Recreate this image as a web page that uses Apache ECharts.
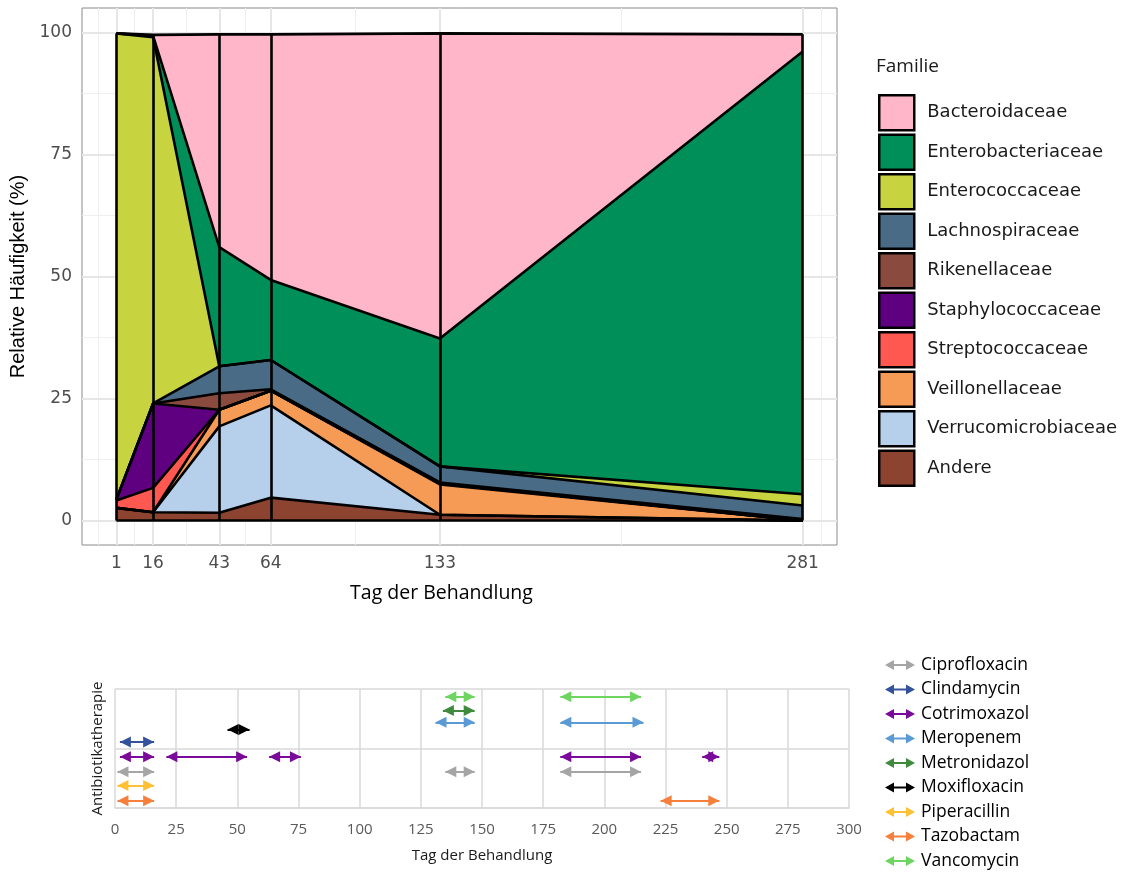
<!DOCTYPE html>
<html><head><meta charset="utf-8">
<script src="https://cdn.jsdelivr.net/npm/echarts@6/dist/echarts.min.js"></script>
<style>html,body{margin:0;padding:0;background:#fff}#c{width:1126px;height:872px}</style>
</head><body><div id="c"></div>
<script>
// ---------- Top chart data (relative abundance, %) ----------
const days = [1, 16, 43, 64, 133, 281];
const families = ['Bacteroidaceae','Enterobacteriaceae','Enterococcaceae','Lachnospiraceae','Rikenellaceae','Staphylococcaceae','Streptococcaceae','Veillonellaceae','Verrucomicrobiaceae','Andere'];
const bacteroidaceae      = [0,    0.2,  43.6, 50.3, 62.5, 3.5];
const enterobacteriaceae  = [0,    0.3,  24.4, 16.4, 26.2, 90.7];
const enterococcaceae     = [95.5, 75.0, 0,    0,    0,    2.3];
const lachnospiraceae     = [0,    0,    5.5,  6.0,  3.3,  2.8];
const rikenellaceae       = [0,    0,    3.4,  0.3,  0.2,  0.3];
const staphylococcaceae   = [0.2,  17.3, 0,    0,    0,    0];
const streptococcaceae    = [1.5,  5.0,  0,    0,    0.2,  0];
const veillonellaceae     = [0,    0,    3.4,  3.0,  6.2,  0];
const verrucomicrobiaceae = [0,    0,    17.7, 18.9, 0,    0];
const andere              = [2.6,  1.7,  1.6,  4.7,  1.2,  0];
const yTicks = [0, 25, 50, 75, 100];

// ---------- Bottom chart data (therapy intervals, days) ----------
const drugs = ['Ciprofloxacin','Clindamycin','Cotrimoxazol','Meropenem','Metronidazol','Moxifloxacin','Piperacillin','Tazobactam','Vancomycin'];
const ciprofloxacin = [[1,16],[135,147],[182,215]];
const clindamycin   = [[2,16]];
const cotrimoxazol  = [[2,16],[21,54],[63,76],[182,215],[240,247]];
const meropenem     = [[131,147],[182,216]];
const metronidazol  = [[134,147]];
const moxifloxacin  = [[46,55]];
const piperacillin  = [[1,16]];
const tazobactam    = [[1,16],[223,247]];
const vancomycin    = [[135,147],[182,215]];
const drugRows = [0.61, 1.11, 0.86, 1.44, 1.64, 1.32, 0.38, 0.12, 1.87];
const xTicks2 = [0, 25, 50, 75, 100, 125, 150, 175, 200, 225, 250, 275, 300];

const famValues = {Bacteroidaceae:bacteroidaceae, Enterobacteriaceae:enterobacteriaceae, Enterococcaceae:enterococcaceae, Lachnospiraceae:lachnospiraceae, Rikenellaceae:rikenellaceae, Staphylococcaceae:staphylococcaceae, Streptococcaceae:streptococcaceae, Veillonellaceae:veillonellaceae, Verrucomicrobiaceae:verrucomicrobiaceae, Andere:andere};
const famColors = {Bacteroidaceae:'#FFB6C8', Enterobacteriaceae:'#008F59', Enterococcaceae:'#C7D43F', Lachnospiraceae:'#4A6B86', Rikenellaceae:'#8B4A3E', Staphylococcaceae:'#5E0080', Streptococcaceae:'#FF5850', Veillonellaceae:'#F59B55', Verrucomicrobiaceae:'#B6CFEA', Andere:'#8C4430'};
const drugSegs = {Ciprofloxacin:ciprofloxacin, Clindamycin:clindamycin, Cotrimoxazol:cotrimoxazol, Meropenem:meropenem, Metronidazol:metronidazol, Moxifloxacin:moxifloxacin, Piperacillin:piperacillin, Tazobactam:tazobactam, Vancomycin:vancomycin};
const drugColors = {Ciprofloxacin:'#A5A5A5', Clindamycin:'#34539C', Cotrimoxazol:'#7A0A99', Meropenem:'#5B9BD5', Metronidazol:'#3F8A3C', Moxifloxacin:'#000000', Piperacillin:'#FFC133', Tazobactam:'#F77F3C', Vancomycin:'#6ED660'};

// ggplot-like minor grid positions (midpoints between breaks, extended)
function minorBreaks(b, lo, hi) {
  const bd = b[1] - b[0];
  const ext = [b[0] - bd, ...b, b[b.length - 1] + bd];
  const out = [];
  for (let i = 0; i < ext.length - 1; i++) {
    const m = (ext[i] + ext[i + 1]) / 2;
    if (m > lo && m < hi) out.push(m);
  }
  return out;
}
const xMin = -13, xMax = 295, yMin = -5, yMax = 105;
const xMinor = minorBreaks(days, xMin, xMax);
const yMinor = minorBreaks(yTicks, yMin, yMax);

const totals = days.map((d, i) => families.reduce((s, f) => s + famValues[f][i], 0));
const stackOrder = families.slice().reverse();

const series = [];
// grid lines (below everything)
series.push({
  type: 'line', xAxisIndex: 0, yAxisIndex: 0, data: [], silent: true, z: 1,
  markLine: {
    silent: true, symbol: 'none', z: 1, animation: false, label: {show: false},
    data: [
      ...xMinor.map(v => ({xAxis: v, lineStyle: {color: '#efefef', width: 1, type: 'solid'}})),
      ...yMinor.map(v => ({yAxis: v, lineStyle: {color: '#efefef', width: 1, type: 'solid'}})),
      ...days.map(v => ({xAxis: v, lineStyle: {color: '#e6e6e6', width: 2, type: 'solid'}})),
      ...yTicks.map(v => ({yAxis: v, lineStyle: {color: '#e6e6e6', width: 2, type: 'solid'}}))
    ]
  }
});
stackOrder.forEach(f => {
  series.push({
    name: f, type: 'line', xAxisIndex: 0, yAxisIndex: 0, stack: 'total', stackStrategy: 'all',
    symbol: 'none', z: 2, silent: true,
    dimensions: ['share', 'day'],
    encode: {x: 'day', y: 'share'},
    lineStyle: {color: '#000', width: 2.6},
    itemStyle: {color: famColors[f]},
    areaStyle: {color: famColors[f], opacity: 1},
    data: days.map((d, i) => [famValues[f][i], d])
  });
});
// vertical outlines at sample days + baseline
series.push({
  type: 'line', xAxisIndex: 0, yAxisIndex: 0, data: [], silent: true, z: 4,
  markLine: {
    silent: true, symbol: 'none', z: 4, animation: false, label: {show: false},
    lineStyle: {color: '#000', width: 2.6, type: 'solid'},
    data: [
      ...days.map((d, i) => [{coord: [d, 0]}, {coord: [d, totals[i]]}]),
      [{coord: [days[0], 0]}, {coord: [days[days.length - 1], 0]}]
    ]
  }
});
drugs.forEach((dname, k) => {
  series.push({
    name: dname, type: 'line', xAxisIndex: 1, yAxisIndex: 1, data: [], silent: true, z: 3,
    itemStyle: {color: drugColors[dname]},
    markLine: {
      silent: true, animation: false, z: 3,
      symbol: ['triangle', 'triangle'], symbolSize: 11, symbolOffset: [[0, 5.5], [0, 5.5]],
      label: {show: false},
      lineStyle: {color: drugColors[dname], width: 2, type: 'solid', opacity: 1},
      emphasis: {disabled: true},
      data: drugSegs[dname].map(s => [{coord: [s[0], drugRows[k]]}, {coord: [s[1], drugRows[k]]}])
    }
  });
});

const arrowIcon = 'path://M0,5L9,0L9,4L21,4L21,0L30,5L21,10L21,6L9,6L9,10Z';

const option = {
  animation: false,
  backgroundColor: '#fff',
  grid: [
    {left: 82, top: 8, width: 755, height: 537, show: true, borderColor: '#8a8a8a', borderWidth: 1, backgroundColor: 'transparent'},
    {left: 115, top: 689, width: 734, height: 119, show: false}
  ],
  xAxis: [
    {type: 'value', gridIndex: 0, min: xMin, max: xMax,
     axisLine: {show: false}, axisTick: {show: false}, splitLine: {show: false},
     axisLabel: {customValues: days, color: '#4d4d4d', fontFamily: 'DejaVu Sans', fontSize: 17, margin: 10},
     name: 'Tag der Behandlung', nameLocation: 'middle', nameGap: 38,
     nameTextStyle: {fontFamily: 'Open Sans', fontSize: 19.5, color: '#000', padding: [0, 36, 0, 0]}},
    {type: 'value', gridIndex: 1, min: 0, max: 300, interval: 25,
     axisLine: {show: true, lineStyle: {color: '#d9d9d9', width: 1.5}}, axisTick: {show: false},
     splitLine: {show: true, lineStyle: {color: '#d9d9d9', width: 1.5}},
     axisLabel: {color: '#595959', fontFamily: 'Open Sans', fontSize: 15, margin: 14},
     name: 'Tag der Behandlung', nameLocation: 'middle', nameGap: 40,
     nameTextStyle: {fontFamily: 'Open Sans', fontSize: 15, color: '#1a1a1a'}}
  ],
  yAxis: [
    {type: 'value', gridIndex: 0, min: yMin, max: yMax,
     axisLine: {show: false}, axisTick: {show: false}, splitLine: {show: false},
     axisLabel: {customValues: yTicks, color: '#4d4d4d', fontFamily: 'DejaVu Sans', fontSize: 17, margin: 10},
     name: 'Relative Häufigkeit (%)', nameLocation: 'middle', nameGap: 49,
     nameTextStyle: {fontFamily: 'Liberation Sans', fontSize: 20, color: '#000'}},
    {type: 'value', gridIndex: 1, min: 0, max: 2, interval: 1,
     axisLine: {show: false}, axisTick: {show: false},
     splitLine: {show: true, lineStyle: {color: '#d9d9d9', width: 1.5}},
     axisLabel: {show: false},
     name: 'Antibiotikatherapie', nameLocation: 'middle', nameGap: 10,
     nameTextStyle: {fontFamily: 'Open Sans', fontSize: 15, color: '#1a1a1a'}}
  ],
  legend: [
    {data: families.map(n => ({name: n, icon: 'rect', itemStyle: {color: famColors[n], borderColor: '#000', borderWidth: 2.5}})),
     orient: 'vertical', left: 878, top: 94, padding: 0, itemWidth: 35, itemHeight: 35, itemGap: 2,
     selectedMode: false,
     textStyle: {fontFamily: 'DejaVu Sans', fontSize: 18, color: '#1a1a1a', padding: [0, 0, 0, 8]}},
    {data: drugs.map(n => ({name: n, icon: arrowIcon, itemStyle: {color: drugColors[n], borderWidth: 0}})),
     orient: 'vertical', left: 885, top: 656, padding: 0, itemWidth: 30, itemHeight: 10, itemGap: 6.5,
     selectedMode: false,
     textStyle: {fontFamily: 'Open Sans', fontSize: 17.5, lineHeight: 18, color: '#000', padding: [0, 0, 0, 1]}}
  ],
  graphic: [
    {type: 'text', left: 876, top: 57, style: {text: 'Familie', font: '19px "Open Sans"', fill: '#1a1a1a'}}
  ],
  series: series
};
const chart = echarts.init(document.getElementById('c'), null, {renderer: 'canvas'});
chart.setOption(option);
</script></body></html>
